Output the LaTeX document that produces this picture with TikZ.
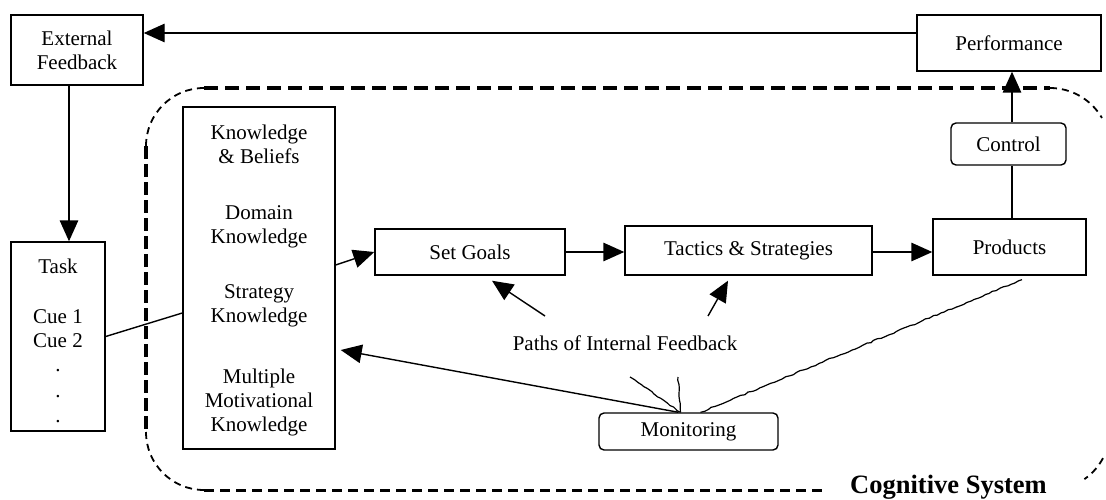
\documentclass[tikz,border=0pt]{standalone}
\usepackage{fontspec}
\setmainfont{Liberation Serif}
\usetikzlibrary{arrows.meta,decorations.pathmorphing,calc}
\begin{document}
\begin{tikzpicture}[x=1pt,y=1pt,
  every node/.style={font=\fontsize{21}{24}\selectfont, inner sep=0pt, align=center},
  box/.style={draw, line width=1.4pt},
  rbox/.style={draw, line width=1.4pt, rounded corners=5pt},
  conn/.style={line width=1.4pt},
  arr/.style={line width=1.4pt, -{Triangle[length=21pt,width=18.5pt]}},
  rough/.style={line width=1.2pt, decorate, decoration={random steps, segment length=4pt, amplitude=0.7pt}},
  dashtop/.style={line width=4.5pt, dash pattern=on 14pt off 7pt},
  dashleft/.style={line width=4pt, dash pattern=on 13pt off 5pt},
  dashbottom/.style={line width=3pt, dash pattern=on 10pt off 6pt},
  dashcorner/.style={line width=1.8pt, dash pattern=on 7pt off 5pt}
]
\useasboundingbox (0,0) rectangle (1106,-500);

% boundary of the cognitive system
\draw[dashtop] (204,-88) -- (1050,-88);
\draw[dashleft] (146,-146) -- (146,-432);
\draw[dashbottom] (204,-490) -- (828,-490);
\draw[dashcorner] (146,-146) arc[start angle=180,end angle=90,radius=58];
\draw[dashcorner] (146,-432) arc[start angle=180,end angle=270,radius=58];
\draw[dashcorner] (1050,-88) arc[start angle=90,end angle=30,radius=60];
\draw[dashcorner] ($(1050,-430)+(-28:60)$) arc[start angle=-28,end angle=-55,radius=60];

% nodes
\node[box, minimum width=132pt, minimum height=70pt] (ext) at (77,-50) {External\\Feedback};
\node[box, minimum width=184pt, minimum height=56pt] (perf) at (1009,-43) {Performance};
\node[rbox, minimum width=115pt, minimum height=42pt] (ctrl) at (1008.5,-144) {Control};
\node[box, minimum width=153pt, minimum height=56pt] (prod) at (1009.5,-247) {Products};
\node[box, minimum width=247pt, minimum height=49pt] (tact) at (748.5,-250.5) {Tactics \& Strategies};
\node[box, minimum width=190pt, minimum height=46pt] (goals) at (470,-252) {Set Goals};
\node[box, minimum width=152pt, minimum height=342pt] (know) at (259,-278) {};
\node (kb1) at (259,-144) {Knowledge\\\& Beliefs};
\node (kb2) at (259,-226.5) {Domain\\Knowledge};
\node (kb3) at (259,-306) {Strategy\\Knowledge};
\node (kb4) at (259,-402) {Multiple\\Motivational\\Knowledge};
\node[box, minimum width=94pt, minimum height=189pt] (task) at (58,-336.5) {};
\node (tasklbl) at (58,-266) {Task};
\node[anchor=base] (cue1) at (58,-323) {Cue 1};
\node[anchor=base] (cue2) at (58,-347) {Cue 2};
\node[anchor=base] (d1) at (58,-371) {.};
\node[anchor=base] (d2) at (58,-397) {.};
\node[anchor=base] (d3) at (58,-422) {.};
\node[rbox, minimum width=179pt, minimum height=37pt] (mon) at (688.5,-431.5) {Monitoring};
\node (pif) at (625,-343) {Paths of Internal Feedback};
\node[font=\fontsize{26.5}{30}\selectfont\bfseries] (cog) at (948.5,-487) {Cognitive System};

% connectors
\draw[arr] ([yshift=10pt]perf.west) -- ([yshift=10pt]perf.west -| ext.east);
\draw[arr] ([xshift=-8pt]ext.south) -- ([xshift=-8pt]ext.south |- task.north);
\draw[arr] ([xshift=3.5pt]ctrl.north) -- ([xshift=3.5pt]ctrl.north |- perf.south);
\draw[conn] ([xshift=2.5pt]prod.north) -- ([xshift=2.5pt]prod.north |- ctrl.south);
\draw[arr] ([yshift=-1.5pt]tact.east) -- ([yshift=-1.5pt]tact.east -| prod.west);
\draw[arr] (goals.east) -- (goals.east -| tact.west);
\draw[arr] ([yshift=13pt]know.east) -- (goals.west);
\draw[conn] (task.east) -- ([yshift=-35pt]know.west);
\draw[arr] ([xshift=-10pt]mon.north) -- ([shift={(5pt,-72pt)}]know.east);

\coordinate (pa1) at (545,-316);
\coordinate (pa2) at (708,-316);
\draw[arr] (pa1) -- ([shift={(22pt,-5pt)}]goals.south);
\draw[arr] (pa2) -- ([shift={(-20.5pt,-5pt)}]tact.south);

\coordinate (r1) at (630,-377);
\coordinate (r2) at (678,-377);
\draw[rough] ([xshift=-8pt]mon.north) -- (r1);
\draw[rough] ([xshift=-8pt]mon.north) -- (r2);
\draw[rough] ([xshift=12pt]mon.north) -- ([shift={(12.5pt,-4pt)}]prod.south);
\end{tikzpicture}
\end{document}
